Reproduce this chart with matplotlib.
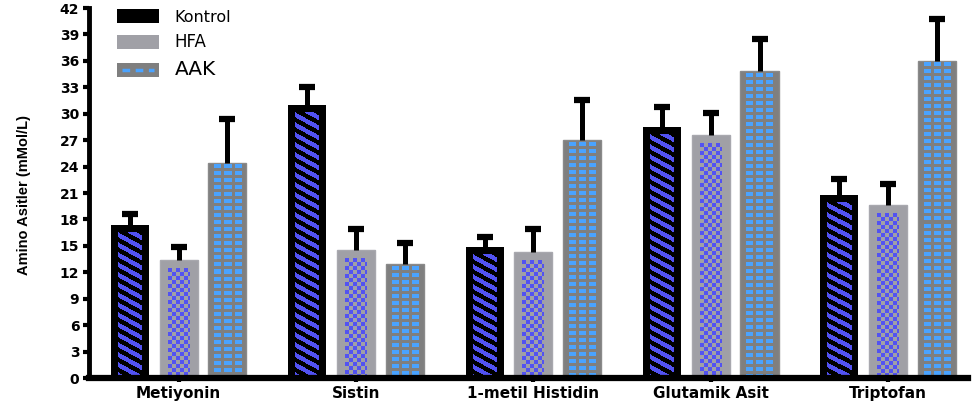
import numpy as np
import matplotlib
matplotlib.use('Agg')
import matplotlib.pyplot as plt
from matplotlib.patches import Patch, Rectangle
from matplotlib.lines import Line2D
from matplotlib.legend_handler import HandlerBase
from matplotlib.colors import to_rgba

# amino acid levels (mMol/L), mean and upper error
categories = ['Metiyonin', 'Sistin', '1-metil Histidin', 'Glutamik Asit', 'Triptofan']
kontrol = [17.4, 31.0, 14.9, 28.5, 20.8]
kontrol_err = [1.2, 2.0, 1.1, 2.3, 1.8]
hfa = [13.4, 14.5, 14.3, 27.6, 19.6]
hfa_err = [1.5, 2.4, 2.6, 2.5, 2.4]
aak = [24.4, 12.9, 27.0, 34.8, 36.0]
aak_err = [5.0, 2.4, 4.6, 3.7, 4.7]
yticks = list(range(0, 43, 3))

BLUE = '#5252f2'
LIGHTBLUE = '#4aa3ff'
GRAY = '#a0a0a6'
DARKGRAY = '#7f7f7f'


def stripes(h, w):
    ii, jj = np.mgrid[0:h, 0:w]
    mask = ((ii - 0.55 * jj) % 10) < 5
    img = np.zeros((h, w, 4))
    img[:] = to_rgba('black')
    img[mask] = to_rgba(BLUE)
    return img


def checker(h, w):
    ii, jj = np.mgrid[0:h, 0:w]
    mask = ((ii // 4) + (jj // 4)) % 2 == 0
    img = np.zeros((h, w, 4))
    img[:] = to_rgba(GRAY)
    img[mask] = to_rgba(BLUE)
    return img


def blocks(h, w):
    ii, jj = np.mgrid[0:h, 0:w]
    fj = (jj + 0.5) / w
    cols = (((fj > 0.13) & (fj < 0.31)) | ((fj > 0.40) & (fj < 0.63))
            | ((fj > 0.72) & (fj < 0.90)))
    rows = (ii % 7) < 4
    img = np.zeros((h, w, 4))
    img[:] = to_rgba(DARKGRAY)
    img[cols & rows] = to_rgba(LIGHTBLUE)
    return img


def fill_bar(ax, x0, x1, top, side, head, painter):
    # paint a pixel pattern inside a bar, inset by side/head pixels
    px0, py0 = ax.transData.transform((x0, 0))
    px1, py1 = ax.transData.transform((x1, top))
    px0 += side
    px1 -= side
    py1 -= head
    w = int(round(px1 - px0))
    h = int(round(py1 - py0))
    if w <= 0 or h <= 0:
        return
    inv = ax.transData.inverted()
    dx0, dy0 = inv.transform((px0, py0))
    dx1, dy1 = inv.transform((px0 + w, py0 + h))
    ax.imshow(painter(h, w), extent=(dx0, dx1, dy0, dy1), origin='upper',
              interpolation='nearest', aspect='auto', zorder=2.5)


class DashHandler(HandlerBase):
    def create_artists(self, legend, orig_handle, xdescent, ydescent,
                       width, height, fontsize, trans):
        r = Rectangle((-xdescent, -ydescent), width, height,
                      facecolor=DARKGRAY, edgecolor='none', transform=trans)
        l = Line2D([-xdescent + 0.12 * width, -xdescent + 0.88 * width],
                   [-ydescent + height / 2] * 2, color=LIGHTBLUE,
                   linestyle=(0, (2.2, 1.6)), linewidth=2.5, transform=trans)
        return [r, l]


fig = plt.figure(figsize=(9.74, 4.09), dpi=100)
ax = fig.add_axes([89 / 974, 31 / 409, 879 / 974, 370 / 409])
ax.set_xlim(-0.505, 4.45)
ax.set_ylim(0, 42)
ax.set_autoscale_on(False)

x = np.arange(len(categories))
bw = 0.215
off = 0.275
zeros = np.zeros(len(categories))

ax.bar(x - off, kontrol, bw, color='black', edgecolor='black', linewidth=0, zorder=2)
ax.bar(x, hfa, bw, color=GRAY, edgecolor='#a8a8ae', linewidth=1, zorder=2)
ax.bar(x + off, aak, bw, color=DARKGRAY, edgecolor='#8a8a8a', linewidth=1, zorder=2)

for i in range(len(categories)):
    fill_bar(ax, x[i] - off - bw / 2, x[i] - off + bw / 2, kontrol[i], 7, 7, stripes)
    fill_bar(ax, x[i] - bw / 2, x[i] + bw / 2, hfa[i], 8, 8, checker)
    fill_bar(ax, x[i] + off - bw / 2, x[i] + off + bw / 2, aak[i], 2, 2, blocks)

# upper error only: hide the cap sitting on the bar top
for xs, vals, errs in [(x - off, kontrol, kontrol_err), (x, hfa, hfa_err),
                       (x + off, aak, aak_err)]:
    eb = ax.errorbar(xs, vals, yerr=[zeros, errs], fmt='none', ecolor='black',
                     elinewidth=3.6, capsize=6, capthick=4.5, zorder=3)
    eb[1][0].set_visible(False)

for side in ['top', 'right']:
    ax.spines[side].set_visible(False)
ax.spines['left'].set_linewidth(3.5)
ax.spines['bottom'].set_linewidth(4.5)

ax.set_yticks(yticks)
ax.set_yticklabels([str(t) for t in yticks], fontsize=10, fontweight='bold',
                   family='DejaVu Sans')
ax.tick_params(axis='y', length=4, width=3, pad=3)
ax.set_xticks(x)
ax.set_xticklabels(categories, fontsize=11, fontweight='bold', family='DejaVu Sans')
ax.tick_params(axis='x', length=3, width=3, pad=3)

fig.text(24 / 974, 1 - 195 / 409, 'Amino Asitler (mMol/L)', rotation=90,
         ha='center', va='center', fontsize=10.5, fontweight='bold',
         family='Liberation Sans')

h_k = Patch(facecolor='black', edgecolor='none')
h_h = Patch(facecolor=GRAY, edgecolor='none')
h_a = Patch(facecolor=DARKGRAY, edgecolor='none')
leg = fig.legend([h_k, h_h, h_a], ['Kontrol', 'HFA', 'AAK'],
                 loc='upper left', bbox_to_anchor=(117 / 974, 1 - 9 / 409),
                 frameon=False, fontsize=11.5, handlelength=2.6,
                 handleheight=1.0, handletextpad=1.0, labelspacing=0.55,
                 borderpad=0, borderaxespad=0,
                 handler_map={h_a: DashHandler()})
texts = leg.get_texts()
texts[1].set_fontsize(12)
texts[2].set_fontsize(14.5)

fig.savefig('out.png', dpi=100)
